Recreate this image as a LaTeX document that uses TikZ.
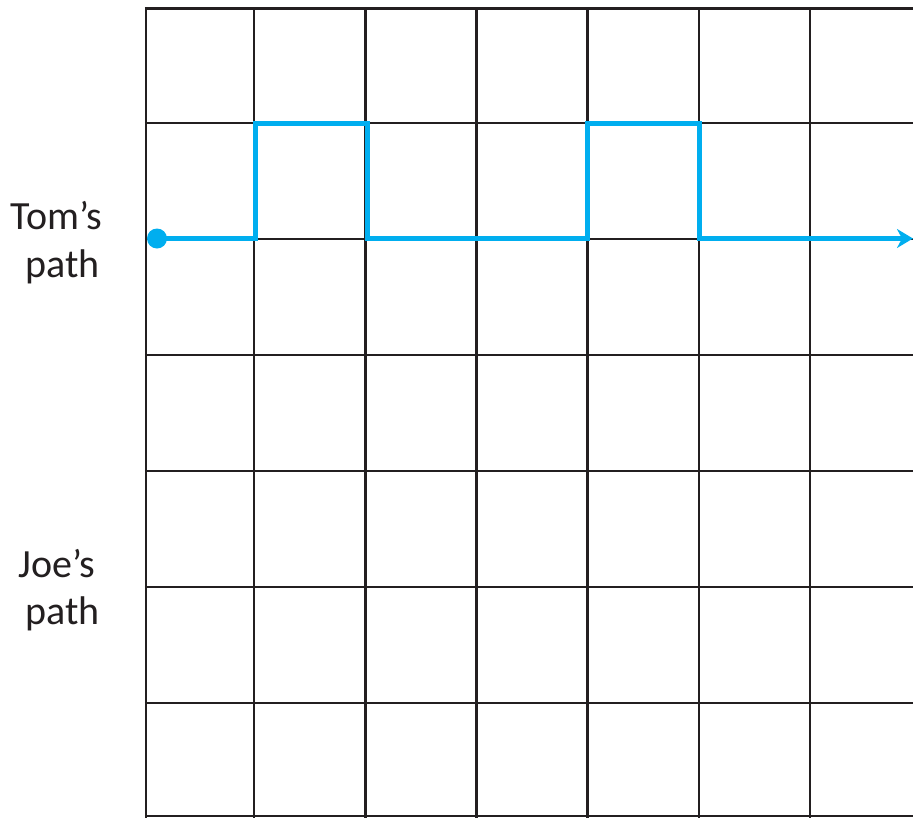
\documentclass[tikz,border=0pt]{standalone}
\usepackage{fontspec}
\setmainfont{Carlito}
\usetikzlibrary{arrows.meta}
\definecolor{pathblue}{HTML}{00AEEF}
\definecolor{gridink}{HTML}{231F20}
\tikzset{
  gridline/.style={draw=gridink, line width=2.4pt},
  bluepath/.style={draw=pathblue, line width=5pt},
  lbl/.style={inner sep=0pt, anchor=base, font=\fontsize{40}{48}\selectfont, text=gridink},
  startdot/.style={circle, fill=pathblue, minimum size=20pt, inner sep=0pt}
}
\begin{document}
\begin{tikzpicture}[x=1pt,y=-1pt]
\useasboundingbox (0,0) rectangle (913,817);
\begin{scope}
\clip (0,0) rectangle (913,817);
% grid
\foreach \x in {146,254,365.5,476.5,587.5,699,810} {
  \draw[gridline] (\x,8.5) -- (\x,830);
}
\foreach \y in {8.5,123,239,355,471,587,703,816} {
  \draw[gridline] (144.8,\y) -- (930,\y);
}
% Tom's path
\node[startdot] (start) at (157,238.5) {};
\coordinate (a1) at (255,238.5);
\coordinate (a2) at (255,123);
\coordinate (a3) at (367,123);
\coordinate (a4) at (367,238.5);
\coordinate (b1) at (587,238.5);
\coordinate (b2) at (587,123);
\coordinate (b3) at (699,123);
\coordinate (b4) at (699,238.5);
\coordinate (endpt) at (913,238.5);
\draw[bluepath, line join=miter, -{Stealth[length=16pt,width=19pt,inset=5pt]}]
  (start.center) -- (a1) -- (a2) -- (a3) -- (a4) -- (b1) -- (b2) -- (b3) -- (b4) -- (endpt);
\end{scope}
% labels
\node[lbl] (tom1) at (56.5,229) {Tom’s};
\node[lbl] (tom2) at (62.5,277) {path};
\node[lbl] (joe1) at (57,577) {Joe’s};
\node[lbl] (joe2) at (62.5,624) {path};
\end{tikzpicture}
\end{document}
